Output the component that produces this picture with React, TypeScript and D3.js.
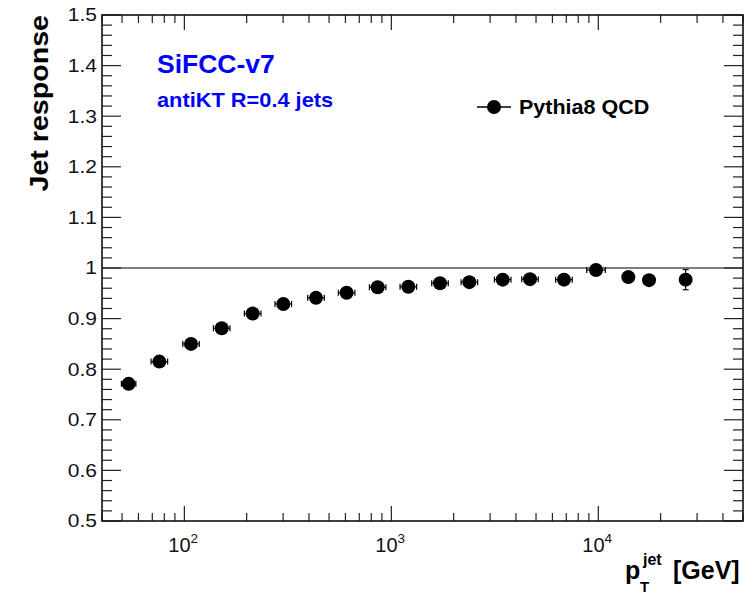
import React from "react";
import * as d3 from "d3";

// Jet response vs jet pT, Pythia8 QCD sample
const ptCenters = [53.8, 75.7, 107.7, 151.5, 213.8, 300.6, 432.5, 608, 859, 1208, 1718, 2382, 3451, 4677, 6823, 9747, 13960, 17580, 26420];
const ptErrDecades = [0.035, 0.04, 0.04, 0.04, 0.04, 0.04, 0.04, 0.04, 0.04, 0.04, 0.04, 0.04, 0.04, 0.04, 0.04, 0.045, 0.025, 0.02, 0.02];
const response = [0.771, 0.815, 0.85, 0.881, 0.91, 0.929, 0.941, 0.951, 0.962, 0.963, 0.97, 0.972, 0.977, 0.978, 0.977, 0.996, 0.982, 0.976, 0.977];
const responseErr = [0.003, 0.003, 0.003, 0.003, 0.003, 0.003, 0.003, 0.003, 0.003, 0.003, 0.003, 0.003, 0.003, 0.003, 0.003, 0.005, 0.006, 0.006, 0.02];

const xDomain = [40, 50000];
const yDomain = [0.5, 1.5];
const xMajorExponents = [2, 3, 4];
const yMajorTicks = [0.5, 0.6, 0.7, 0.8, 0.9, 1.0, 1.1, 1.2, 1.3, 1.4, 1.5];
const yTickLabels = ["0.5", "0.6", "0.7", "0.8", "0.9", "1", "1.1", "1.2", "1.3", "1.4", "1.5"];

const W = 755;
const H = 596;
const frame = { left: 102, right: 743, top: 15, bottom: 521 };
const FONT = "'Liberation Sans', Arial, Helvetica, sans-serif";

export default function App() {
  const x = d3.scaleLog().domain(xDomain).range([frame.left, frame.right]);
  const y = d3.scaleLinear().domain(yDomain).range([frame.bottom, frame.top]);

  const xTicks = x.ticks().filter((t) => t >= xDomain[0] && t <= xDomain[1]);
  const isMajorX = (t: number) => Math.abs(Math.log10(t) - Math.round(Math.log10(t))) < 1e-9;
  const yMinor = d3.range(0, 51).map((i) => yDomain[0] + i * 0.02);

  const tickColor = "#222";
  const points = ptCenters.map((pt, i) => ({
    pt,
    lo: pt / Math.pow(10, ptErrDecades[i]),
    hi: pt * Math.pow(10, ptErrDecades[i]),
    r: response[i],
    e: responseErr[i],
  }));

  return (
    <svg width={W} height={H} style={{ position: "absolute", left: 0, top: 0, display: "block", background: "#fff" }} fontFamily={FONT}>
      <rect x={0} y={0} width={W} height={H} fill="#fff" />

      {/* reference line at unit response */}
      <line x1={frame.left} x2={frame.right} y1={y(1)} y2={y(1)} stroke="#555" strokeWidth={1.4} />

      {/* x ticks bottom and top */}
      {xTicks.map((t, i) => {
        const len = isMajorX(t) ? 15 : 8;
        const px = x(t);
        return (
          <g key={"xt" + i} stroke={tickColor} strokeWidth={1.2}>
            <line x1={px} x2={px} y1={frame.bottom} y2={frame.bottom - len} />
            <line x1={px} x2={px} y1={frame.top} y2={frame.top + len} />
          </g>
        );
      })}

      {/* y ticks left and right */}
      {yMinor.map((v, i) => {
        const major = i % 5 === 0;
        const len = major ? 19 : 10;
        const py = y(v);
        return (
          <g key={"yt" + i} stroke={tickColor} strokeWidth={1.2}>
            <line x1={frame.left} x2={frame.left + len} y1={py} y2={py} />
            <line x1={frame.right} x2={frame.right - len} y1={py} y2={py} />
          </g>
        );
      })}

      {/* frame */}
      <rect x={frame.left} y={frame.top} width={frame.right - frame.left} height={frame.bottom - frame.top} fill="none" stroke="#111" strokeWidth={1.6} />

      {/* y tick labels */}
      {yMajorTicks.map((v, i) => (
        <text key={"yl" + i} transform={`translate(97,${y(v) + 6.3}) scale(1.2,1)`} textAnchor="end" fontSize={17.5} fill="#111">
          {yTickLabels[i]}
        </text>
      ))}

      {/* x tick labels as powers of ten */}
      {xMajorExponents.map((p) => {
        const px = x(Math.pow(10, p));
        return (
          <text key={"xl" + p} x={px - 16} y={552} fontSize={20} fill="#111">
            10
            <tspan dy={-9} fontSize={13.5}>{p}</tspan>
          </text>
        );
      })}

      {/* axis titles */}
      <text transform="translate(48,15) rotate(-90) scale(1.1,1)" textAnchor="end" fontSize={26} fontWeight="bold" fill="#000">
        Jet response
      </text>
      <g fontWeight="bold" fill="#000">
        <text x={625} y={579} fontSize={25}>p</text>
        <text x={643} y={565} fontSize={16}>jet</text>
        <text x={640} y={592} fontSize={15}>T</text>
        <text x={673} y={579} fontSize={25}>[GeV]</text>
      </g>

      {/* labels */}
      <text transform="translate(157,73) scale(1.04,1)" fontSize={25.5} fontWeight="bold" fill="#0000ff">SiFCC-v7</text>
      <text transform="translate(157,106.5) scale(1.09,1)" fontSize={20} fontWeight="bold" fill="#0000ff">antiKT R=0.4 jets</text>

      {/* legend */}
      <line x1={477} x2={511} y1={107} y2={107} stroke="#000" strokeWidth={1.3} />
      <circle cx={494} cy={107} r={7} fill="#000" />
      <text transform="translate(519,113.5) scale(1.05,1)" fontSize={20.5} fontWeight="bold" fill="#000">Pythia8 QCD</text>

      {/* data points with error bars */}
      {points.map((d, i) => {
        const cx = x(d.pt);
        const cy = y(d.r);
        const xl = x(d.lo);
        const xh = x(d.hi);
        const yl = y(d.r - d.e);
        const yh = y(d.r + d.e);
        return (
          <g key={"pt" + i} stroke="#000" strokeWidth={1.2}>
            <line x1={xl} x2={xh} y1={cy} y2={cy} />
            <line x1={xl} x2={xl} y1={cy - 3} y2={cy + 3} />
            <line x1={xh} x2={xh} y1={cy - 3} y2={cy + 3} />
            <line x1={cx} x2={cx} y1={yl} y2={yh} />
            <line x1={cx - 3} x2={cx + 3} y1={yl} y2={yl} />
            <line x1={cx - 3} x2={cx + 3} y1={yh} y2={yh} />
            <circle cx={cx} cy={cy} r={7} fill="#000" stroke="none" />
          </g>
        );
      })}
    </svg>
  );
}
